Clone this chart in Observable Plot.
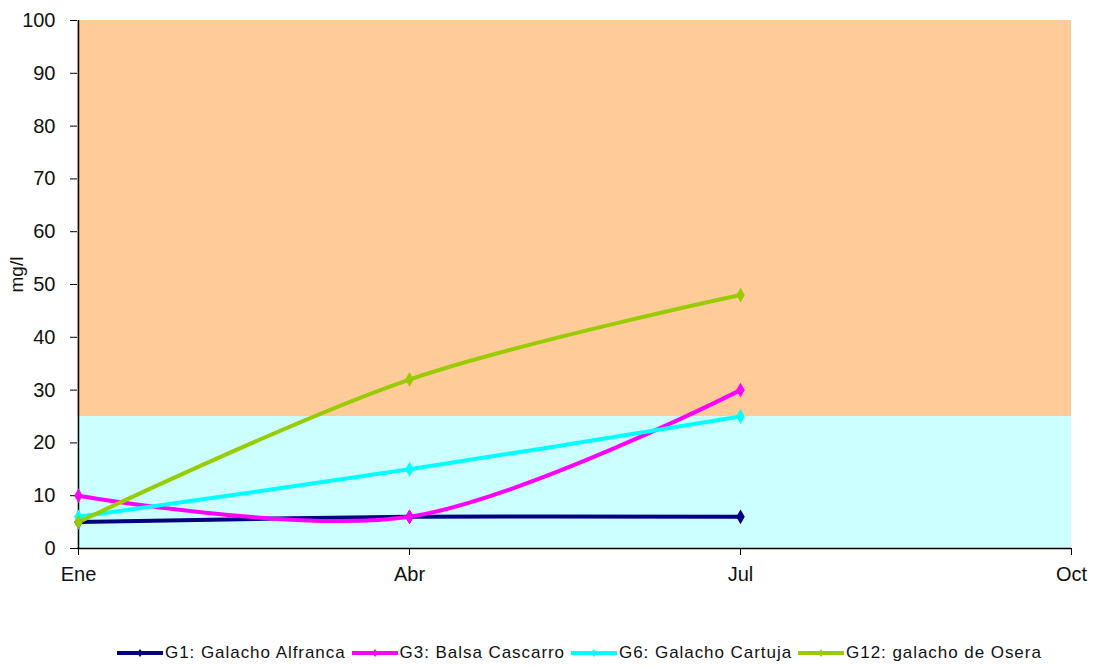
<!DOCTYPE html>
<html>
<head>
<meta charset="utf-8">
<script src="https://cdn.jsdelivr.net/npm/d3@7"></script>
<script src="https://cdn.jsdelivr.net/npm/@observablehq/plot@0.6"></script>
<style>
  html, body { margin: 0; padding: 0; background: #ffffff; }
  body { width: 1094px; height: 666px; overflow: hidden; font-family: "Liberation Sans", Arial, sans-serif; }
  #legend { display: flex; justify-content: flex-start; align-items: center; gap: 5px; margin-top: 43px; padding-left: 116px; font-size: 17px; color: #111; letter-spacing: 0.95px; white-space: nowrap; }
  .item { display: flex; align-items: center; }
  .item svg { margin-right: 1px; }
</style>
</head>
<body>
<div id="chart"></div>
<div id="legend"></div>
<script>
const months = ["Ene", "Abr", "Jul", "Oct"];
const seriesNames = ["G1: Galacho Alfranca", "G3: Balsa Cascarro", "G6: Galacho Cartuja", "G12: galacho de Osera"];
const seriesColors = ["#000080", "#FF00FF", "#00FFFF", "#99CC00"];
const g1 = [5, 6, 6];
const g3 = [10, 6, 30];
const g6 = [6, 15, 25];
const g12 = [5, 32, 48];
const yTicks = [0, 10, 20, 30, 40, 50, 60, 70, 80, 90, 100];
const bandLimits = [0, 25, 100];
const bandColors = ["#CCFFFF", "#FFCC99"];

const allValues = [g1, g3, g6, g12];
const data = [];
allValues.forEach((vals, si) => {
  vals.forEach((v, i) => data.push({series: seriesNames[si], month: months[i], value: v}));
});
const bands = bandColors.map((c, i) => ({y1: bandLimits[i], y2: bandLimits[i + 1], color: c}));

const chart = Plot.plot({
  width: 1094,
  height: 600,
  marginLeft: 77,
  marginRight: 23,
  marginTop: 20,
  marginBottom: 52,
  style: {fontFamily: "Liberation Sans, Arial, sans-serif", fontSize: "20px", color: "#111"},
  x: {type: "point", domain: months, padding: 0},
  y: {domain: [0, 100]},
  color: {domain: seriesNames, range: seriesColors},
  marks: [
    Plot.rect(bands, {y1: "y1", y2: "y2", fill: "color"}),
    Plot.ruleX([months[0]], {stroke: "#000", strokeWidth: 1.5}),
    Plot.ruleY([0], {stroke: "#000", strokeWidth: 1.5}),
    Plot.axisY({ticks: yTicks, tickSize: 7, tickPadding: 15, stroke: "#000", fontSize: 20,
      label: null}),
    Plot.text(["mg/l"], {frameAnchor: "left", dx: -61, dy: 8, rotate: -90, fontSize: 19, fill: "#111"}),
    Plot.axisX({tickSize: 7, tickPadding: 11, stroke: "#000", fontSize: 20, label: null}),
    Plot.line(data, {x: "month", y: "value", z: "series", stroke: "series", strokeWidth: 4, curve: "catmull-rom"}),
    Plot.dot(data, {x: "month", y: "value", fill: "series", symbol: "diamond", r: 4.5, stroke: null})
  ]
});
document.getElementById("chart").appendChild(chart);

const legend = document.getElementById("legend");
seriesNames.forEach((n, i) => {
  const item = document.createElement("div");
  item.className = "item";
  item.innerHTML = `<svg width="48" height="12"><line x1="1" y1="6" x2="47" y2="6" stroke="${seriesColors[i]}" stroke-width="4"/><path d="M24,2 L27,6 L24,10 L21,6 Z" fill="${seriesColors[i]}"/></svg><span>${n}</span>`;
  legend.appendChild(item);
});
</script>
</body>
</html>
